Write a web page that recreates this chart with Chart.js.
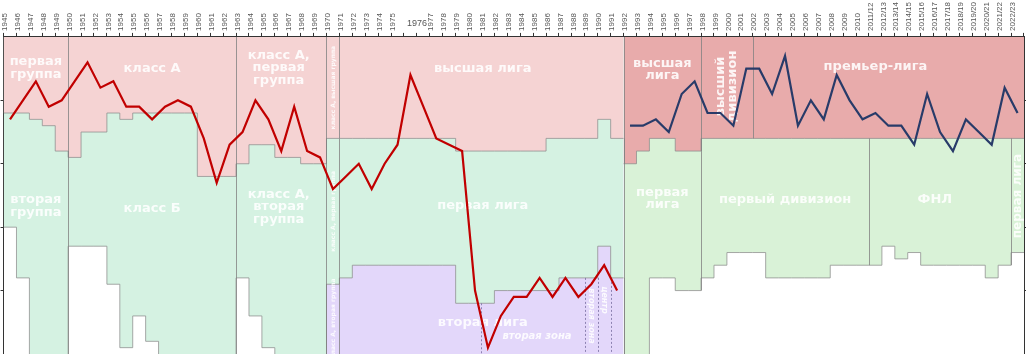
<!DOCTYPE html>
<html>
<head>
<meta charset="utf-8">
<script src="https://cdn.jsdelivr.net/npm/chart.js@4.4.1/dist/chart.umd.min.js"></script>
<style>
html,body{margin:0;padding:0;background:#fff;}
#wrap{width:1026px;height:354px;}
</style>
</head>
<body>
<div id="wrap"><canvas id="posGraph" width="1026" height="354"></canvas></div>
<script>
// seasons (1976 had two championships: spring and autumn)
var seasons = ['1945','1946','1947','1948','1949','1950','1951','1952','1953','1954',
  '1955','1956','1957','1958','1959','1960','1961','1962','1963','1964','1965','1966',
  '1967','1968','1969','1970','1971','1972','1973','1974','1975','1976','1976','1977',
  '1978','1979','1980','1981','1982','1983','1984','1985','1986','1987','1988','1989',
  '1990','1991','1992','1993','1994','1995','1996','1997','1998','1999','2000','2001',
  '2002','2003','2004','2005','2006','2007','2008','2009','2010','2011/12','2012/13',
  '2013/14','2014/15','2015/16','2016/17','2017/18','2018/19','2019/20','2020/21',
  '2021/22','2022/23'];

// overall place in the league pyramid, USSR 1945-1991
var sovietPlaces = [13,10,7,11,10,7,4,8,7,11,11,13,11,10,11,16,23,17,15,10,13,18,11,18,19,
  24,22,20,24,20,17,6,11,16,17,18,40,49,44,41,41,38,41,38,41,39,36,40];

// overall place, Russia 1992-2022/23
var russianPlaces = [14,14,13,15,9,7,12,12,14,5,5,9,3,14,10,13,6,10,13,12,14,14,17,9,15,18,
  13,15,17,8,12];

// number of clubs in the top tier
var topTierSize = [12,12,13,14,18,19,15,15,12,13,12,12,12,12,12,22,22,22,20,17,17,19,19,20,20,
  16,16,16,16,16,16,16,16,16,16,18,18,18,18,18,18,18,16,16,16,16,13,16,
  20,18,16,16,18,18,16,16,16,16,16,16,16,16,16,16,16,16,16,16,16,16,16,16,16,16,16,16,16,16,16];

// last place of the second tier (55 = below the picture)
var secondTierBottom = [30,38,55,55,55,33,33,33,39,49,44,48,55,55,55,55,55,55,38,44,49,55,55,55,55,
  39,38,36,36,36,36,36,36,36,36,42,42,42,40,40,40,40,40,38,38,38,33,38,
  55,55,38,38,40,40,38,36,34,34,34,38,38,38,38,38,36,36,36,36,33,35,34,36,36,36,36,36,38,36,34];

// last place of the third tier, shown 1970-1991 only
var thirdTierBottom = [];
for (var t = 0; t < seasons.length; t++) thirdTierBottom.push(t >= 25 && t <= 47 ? 55 : null);

function band(values, from, to) {
  var pts = [];
  for (var i = from; i <= to; i++) pts.push({x: i - 0.5, y: values[i]});
  pts.push({x: to + 0.5, y: values[to]});
  return pts;
}

function bandSet(values, from, to, color, order) {
  return {
    data: band(values, from, to),
    stepped: 'before',
    fill: {value: 0},
    backgroundColor: color,
    borderColor: 'rgba(140,140,140,0.75)',
    borderWidth: 1,
    pointRadius: 0,
    order: order
  };
}

var zoneText = [
  {t: ['первая', 'группа'], x: 2, y: 4.9},
  {t: ['класс А'], x: 11, y: 5.0},
  {t: ['класс А,', 'первая', 'группа'], x: 20.8, y: 4.9},
  {t: ['высшая лига'], x: 36.6, y: 5.0},
  {t: ['высшая', 'лига'], x: 50.5, y: 5.2},
  {t: ['высший', 'дивизион'], x: 55.5, y: 7.8, rot: -1},
  {t: ['премьер-лига'], x: 67, y: 4.7},
  {t: ['вторая', 'группа'], x: 2, y: 26.7},
  {t: ['класс Б'], x: 11, y: 27.1},
  {t: ['класс А,', 'вторая', 'группа'], x: 20.8, y: 26.8},
  {t: ['первая лига'], x: 36.6, y: 26.6},
  {t: ['первая', 'лига'], x: 50.5, y: 25.5},
  {t: ['первый дивизион'], x: 60, y: 25.7},
  {t: ['ФНЛ'], x: 71.6, y: 25.7},
  {t: ['первая лига'], x: 78, y: 25.1, rot: -1, size: 12},
  {t: ['вторая лига'], x: 36.6, y: 45.0},
  {t: ['вторая зона'], x: 40.8, y: 47.3, size: 10, italic: true},
  {t: ['класс А, высшая группа'], x: 25, y: 8, rot: -1, size: 6},
  {t: ['класс А, первая группа'], x: 25, y: 27.5, rot: -1, size: 6},
  {t: ['класс А, вторая группа'], x: 25, y: 44.4, rot: -1, size: 6},
  {t: ['вторая зона'], x: 45, y: 44, rot: 1, size: 8, italic: true},
  {t: ['центр'], x: 46, y: 41.5, rot: 1, size: 8, italic: true}
];

var dividers = {
  top: [4.5, 17.5, 24.5, 25.5, 47.5, 53.5, 57.5],
  second: [4.5, 17.5, 24.5, 25.5, 47.5, 53.5, 66.5, 77.5],
  third: [24.5, 25.5, 47.5]
};
var zoneSplits = [36.5, 44.5, 45.5, 46.5];

function tierRange(tier, i) {
  if (i < 0 || i >= seasons.length) return null;
  if (tier == 'top') return [0, topTierSize[i]];
  if (tier == 'second') return [topTierSize[i], secondTierBottom[i]];
  if (thirdTierBottom[i] == null) return null;
  return [secondTierBottom[i], thirdTierBottom[i]];
}

var zonesPlugin = {
  id: 'zones',
  beforeDatasetDraw: function(chart, args) {
    if (args.index !== 1) return;
    var ctx = chart.ctx, xs = chart.scales.x, ys = chart.scales.y, a = chart.chartArea;
    ctx.save();
    ctx.beginPath();
    ctx.rect(a.left, a.top, a.right - a.left, a.bottom - a.top);
    ctx.clip();
    ctx.strokeStyle = 'rgba(130,130,130,0.8)';
    ctx.lineWidth = 1;
    Object.keys(dividers).forEach(function(tier) {
      dividers[tier].forEach(function(b) {
        var r1 = tierRange(tier, b - 0.5), r2 = tierRange(tier, b + 0.5);
        var rs = [r1, r2].filter(function(r) { return r; });
        var y0 = Math.min.apply(null, rs.map(function(r) { return r[0]; }));
        var y1 = Math.max.apply(null, rs.map(function(r) { return r[1]; }));
        var px = Math.round(xs.getPixelForValue(b)) + 0.5;
        ctx.beginPath();
        ctx.moveTo(px, ys.getPixelForValue(y0));
        ctx.lineTo(px, ys.getPixelForValue(y1));
        ctx.stroke();
      });
    });
    ctx.setLineDash([2, 2]);
    ctx.strokeStyle = 'rgba(120,110,160,0.8)';
    zoneSplits.forEach(function(b) {
      var from = Math.max(secondTierBottom[b - 0.5], secondTierBottom[b + 0.5]);
      var px = Math.round(xs.getPixelForValue(b)) + 0.5;
      ctx.beginPath();
      ctx.moveTo(px, ys.getPixelForValue(from));
      ctx.lineTo(px, a.bottom);
      ctx.stroke();
    });
    ctx.setLineDash([]);
    ctx.fillStyle = 'rgba(255,255,255,0.88)';
    ctx.textAlign = 'center';
    ctx.textBaseline = 'middle';
    zoneText.forEach(function(z) {
      var size = z.size || 13;
      ctx.font = (z.italic ? 'italic ' : '') + 'bold ' + size + 'px "DejaVu Sans"';
      var lh = size * 0.95;
      ctx.save();
      ctx.translate(xs.getPixelForValue(z.x), ys.getPixelForValue(z.y));
      if (z.rot) ctx.rotate(z.rot * Math.PI / 2);
      z.t.forEach(function(line, k) {
        ctx.fillText(line, 0, (k - (z.t.length - 1) / 2) * lh);
      });
      ctx.restore();
    });
    ctx.restore();
  },
  afterDraw: function(chart) {
    var ctx = chart.ctx, xs = chart.scales.x;
    ctx.save();
    ctx.font = '9px "Liberation Sans"';
    ctx.fillStyle = '#555';
    ctx.textAlign = 'center';
    ctx.textBaseline = 'middle';
    ctx.fillText('1976', xs.getPixelForValue(31.5), xs.bottom - 13);
    ctx.restore();
  }
};

Chart.defaults.font.family = '"Liberation Sans"';

var ctx = document.getElementById('posGraph');
var myChart = new Chart(ctx, {
  type: 'line',
  data: {
    datasets: [
      {
        label: 'СССР',
        data: sovietPlaces.map(function(v, i) { return {x: i, y: v}; }),
        borderColor: '#c10000',
        borderWidth: 2.2,
        pointRadius: 0,
        fill: false,
        order: 0
      },
      {
        label: 'Россия',
        data: russianPlaces.map(function(v, i) { return {x: i + 48, y: v}; }),
        borderColor: '#283b69',
        borderWidth: 2.2,
        pointRadius: 0,
        fill: false,
        order: 0
      },
      bandSet(topTierSize, 0, 47, '#f5d3d3', 1),
      bandSet(topTierSize, 48, 78, '#e8abab', 1),
      bandSet(secondTierBottom, 0, 47, '#d5f2e2', 2),
      bandSet(secondTierBottom, 48, 78, '#d9f2d7', 2),
      bandSet(thirdTierBottom, 25, 47, '#e3d7fa', 3)
    ]
  },
  options: {
    responsive: false,
    animation: false,
    devicePixelRatio: 1,
    layout: {padding: 0},
    plugins: {legend: {display: false}, tooltip: {enabled: false}},
    scales: {
      x: {
        type: 'linear',
        position: 'top',
        min: -0.5,
        max: 78.5,
        z: 1,
        afterBuildTicks: function(s) {
          s.ticks = seasons.map(function(_, i) { return {value: i}; });
        },
        ticks: {
          autoSkip: false,
          minRotation: 90,
          maxRotation: 90,
          padding: 2,
          labelOffset: 3,
          color: '#555',
          font: {size: 8, lineHeight: 1},
          callback: function(v) { return (v == 31 || v == 32) ? '' : seasons[v]; }
        },
        grid: {offset: true, drawOnChartArea: false, tickLength: 4, color: '#333'},
        border: {color: '#333'}
      },
      y: {
        type: 'linear',
        position: 'left',
        min: 0,
        max: 50,
        reverse: true,
        afterBuildTicks: function(s) {
          s.ticks = [10, 20, 30, 40].map(function(v) { return {value: v}; });
        },
        ticks: {display: false},
        grid: {drawOnChartArea: false, tickLength: 3, color: '#333'},
        border: {color: '#333'}
      },
      y2: {
        type: 'linear',
        position: 'right',
        min: 0,
        max: 50,
        reverse: true,
        afterBuildTicks: function(s) {
          s.ticks = [10, 20, 30, 40].map(function(v) { return {value: v}; });
        },
        ticks: {display: false},
        grid: {drawOnChartArea: false, tickLength: 2, color: '#333'},
        border: {color: '#333'}
      }
    }
  },
  plugins: [zonesPlugin]
});
</script>
</body>
</html>
